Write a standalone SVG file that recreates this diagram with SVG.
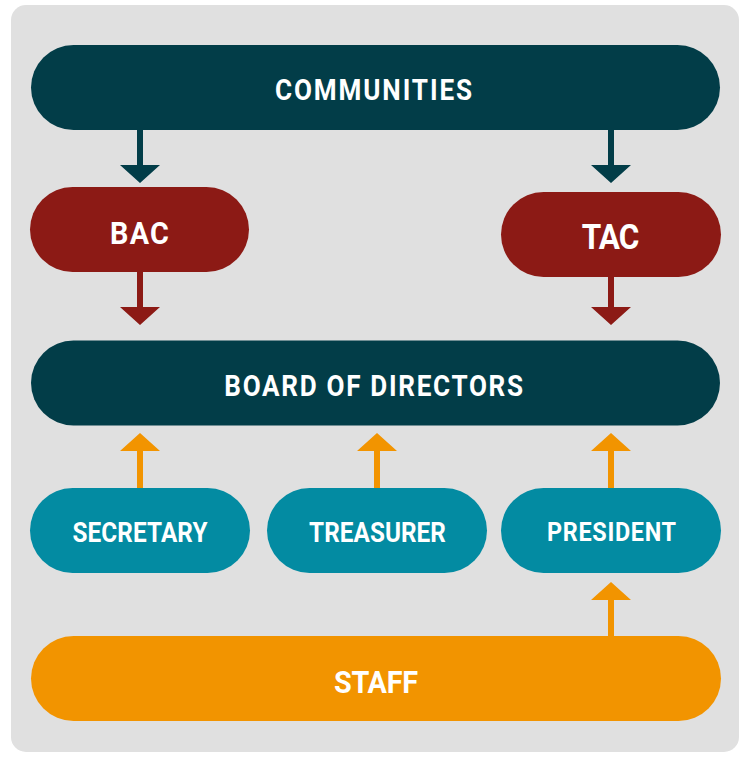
<svg xmlns="http://www.w3.org/2000/svg" width="743" height="757" viewBox="0 0 743 757">
<style>
.lbl{font-family:Roboto,"Liberation Sans",sans-serif;font-weight:bold;fill:#ffffff;text-anchor:middle}
.dk{fill:#023D48}.rd{fill:#8C1A15}.tl{fill:#038BA2}.or{fill:#F29400}
</style>
<rect x="11" y="5" width="728" height="747" rx="15" fill="#E0E0E0"/>
<g id="connectors">
<path class="dk" d="M137 130h6v35h17l-20 18l-20-18h17z"/>
<path class="dk" d="M608 130h6v35h17l-20 18l-20-18h17z"/>
<path class="rd" d="M137 272h6v35h17l-20 18l-20-18h17z"/>
<path class="rd" d="M608 277h6v30h17l-20 18l-20-18h17z"/>
<path class="or" d="M137 488h6v-37h17l-20-18l-20 18h17z"/>
<path class="or" d="M374 488h6v-37h17l-20-18l-20 18h17z"/>
<path class="or" d="M608 488h6v-37h17l-20-18l-20 18h17z"/>
<path class="or" d="M608 636h6v-36h17l-20-18l-20 18h17z"/>
</g>
<g id="communities">
<rect class="dk" x="31" y="45" width="689" height="85" rx="42.5"/>
<text class="lbl" transform="translate(373.5 100) scale(0.9 1)" font-size="29" textLength="219" lengthAdjust="spacing">COMMUNITIES</text>
</g>
<g id="bac">
<rect class="rd" x="30" y="187" width="219" height="85" rx="42.5"/>
<text class="lbl" transform="translate(139.5 244) scale(0.9 1)" font-size="32" textLength="65.5" lengthAdjust="spacing">BAC</text>
</g>
<g id="tac">
<rect class="rd" x="501" y="192" width="220" height="85" rx="42.5"/>
<text class="lbl" transform="translate(610.5 249) scale(0.9 1)" font-size="35" textLength="64" lengthAdjust="spacing">TAC</text>
</g>
<g id="board">
<rect class="dk" x="31" y="340.5" width="689" height="85" rx="42.5"/>
<text class="lbl" transform="translate(373.7 395.5) scale(0.9 1)" font-size="29" textLength="332" lengthAdjust="spacing">BOARD OF DIRECTORS</text>
</g>
<g id="secretary">
<rect class="tl" x="30" y="488" width="220" height="85" rx="42.5"/>
<text class="lbl" transform="translate(140 541.5) scale(0.9 1)" font-size="27" textLength="150" lengthAdjust="spacing">SECRETARY</text>
</g>
<g id="treasurer">
<rect class="tl" x="267" y="488" width="220" height="85" rx="42.5"/>
<text class="lbl" transform="translate(377.5 541.5) scale(0.9 1)" font-size="27" textLength="152" lengthAdjust="spacing">TREASURER</text>
</g>
<g id="president">
<rect class="tl" x="501" y="488" width="220" height="85" rx="42.5"/>
<text class="lbl" transform="translate(611.5 541) scale(0.9 1)" font-size="26" textLength="143.5" lengthAdjust="spacing">PRESIDENT</text>
</g>
<g id="staff">
<rect class="or" x="31" y="636" width="690" height="85" rx="42.5"/>
<text class="lbl" transform="translate(376 692.5) scale(0.9 1)" font-size="32" textLength="93.5" lengthAdjust="spacing">STAFF</text>
</g>
</svg>
